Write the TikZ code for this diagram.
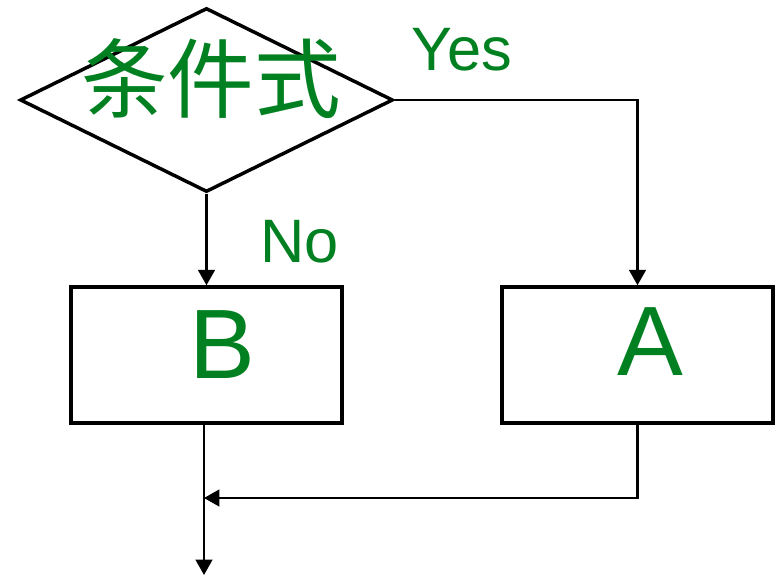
\documentclass[tikz,border=0pt]{standalone}
\usepackage{fontspec}
\setmainfont{Liberation Sans}
\newfontfamily\cjkfont{Noto Sans CJK SC}
\usepackage{tikz}
\usetikzlibrary{arrows.meta,shapes.geometric,backgrounds}
\definecolor{labelgreen}{RGB}{0,128,32}

\begin{document}
\begin{tikzpicture}[x=0.75pt,y=-0.75pt,
  decision/.style={diamond,draw,line width=2.6pt,inner sep=0pt,minimum width=279.75pt,minimum height=138pt},
  process/.style={rectangle,draw,line width=2.6pt,inner sep=0pt,minimum width=203.25pt,minimum height=102pt},
  conn/.style={line width=1.7pt,-{Triangle[width=12.5pt,length=11.5pt]}},
  bigtext/.style={text=labelgreen,font=\fontsize{74}{80}\selectfont,inner sep=0pt},
  yesno/.style={text=labelgreen,font=\fontsize{46}{50}\selectfont,inner sep=0pt}]
\useasboundingbox[fill=white] (0,0) rectangle (779,575);
\node[decision] (cond) at (206.5,100) {};
\node[text=labelgreen,font=\cjkfont\fontsize{65}{70}\selectfont,inner sep=0pt] (condtext) at (211,79) {条件式};
\node[yesno] (yes) at (462,50) {Yes};
\node[yesno] (no) at (299.5,241.5) {No};
\node[process] (B) at (206.5,355) {};
\node[bigtext] (btext) at (222.5,344.5) {B};
\node[process] (A) at (637.5,355) {};
\node[bigtext] (atext) at (650.5,342) {A};
\coordinate (merge) at (204,498);
\coordinate (out) at (204,575);
\draw[conn] (cond.south) -- (B.north);
\draw[conn] (cond.east) -| (A.north);
\draw[conn] (A.south) |- (merge);
\draw[conn] (merge |- B.south) -- (out);
\end{tikzpicture}
\end{document}
